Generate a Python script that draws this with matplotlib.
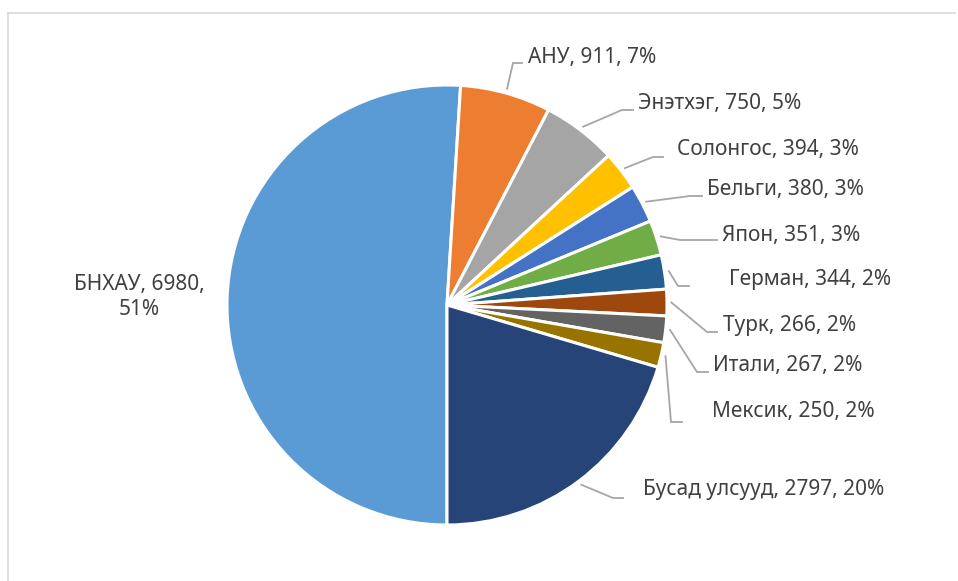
import matplotlib
matplotlib.use('Agg')
import matplotlib.pyplot as plt
from matplotlib.lines import Line2D
import numpy as np

# ---- data ----
countries = ['БНХАУ', 'АНУ', 'Энэтхэг', 'Солонгос', 'Бельги', 'Япон',
             'Герман', 'Турк', 'Итали', 'Мексик', 'Бусад улсууд']
values = [6980, 911, 750, 394, 380, 351, 344, 266, 267, 250, 2797]
percents = [51, 7, 5, 3, 3, 3, 2, 2, 2, 2, 20]
colors = ['#5B9BD5', '#ED7D31', '#A5A5A5', '#FFC000', '#4472C4', '#70AD47',
          '#255E91', '#9E480E', '#636363', '#997300', '#264478']

# ---- layout (pixel coordinates, y measured from top) ----
W, H = 958, 581
center = (447, 305)
radius = 220
# text anchor (left x, centre y), elbow point, elbow end for each label (None = no leader)
text_pos = [(139, 297), (528, 57), (638, 103), (677, 149), (707, 190), (722, 235),
            (729, 279), (723, 325), (713, 365), (712, 412), (643, 490)]
elbows = [None, ((513, 63), (522, 63)), ((622, 110), (633, 110)), ((653, 157), (663, 157)),
          ((690, 196), (702, 196)), ((680, 240), (717, 240)), ((678, 286), (689, 286)),
          ((707, 332), (717, 332)), ((697, 372), (708, 372)), ((671, 422), (682, 422)),
          ((613, 498), (623, 498))]

plt.rcParams['font.family'] = ['Noto Sans', 'DejaVu Sans']
TXT = '#404040'
LEAD = '#A6A6A6'
FS = 15

fig = plt.figure(figsize=(W / 100, H / 100), dpi=100)
ax = fig.add_axes([0, 0, 1, 1])

fy = lambda y: H - y

wedges, _ = ax.pie(values, colors=colors, startangle=270, counterclock=False,
                   radius=radius, center=(center[0], fy(center[1])),
                   wedgeprops=dict(edgecolor='white', linewidth=2.2), frame=True)

ax.set_xlim(0, W)
ax.set_ylim(0, H)
ax.set_aspect('equal')
ax.axis('off')

for i, (name, v, p) in enumerate(zip(countries, values, percents)):
    tx, ty = text_pos[i]
    if elbows[i] is None:
        ax.text(tx, fy(ty), f"{name}, {v},\n{p}%", ha='center', va='center',
                multialignment='center', fontsize=FS, color=TXT, linespacing=1.2)
        continue
    w = wedges[i]
    mid = np.deg2rad((w.theta1 + w.theta2) / 2)
    sx = center[0] + radius * 1.02 * np.cos(mid)
    sy = fy(center[1]) + radius * 1.02 * np.sin(mid)
    (px, py), (ex, ey) = elbows[i]
    ax.plot([sx, px, ex], [sy, fy(py), fy(ey)], color=LEAD, lw=1.3,
            solid_joinstyle='miter', zorder=1)
    ax.text(tx, fy(ty), f"{name}, {v}, {p}%", ha='left', va='center',
            fontsize=FS, color=TXT)

# chart area border (partially visible)
fig.add_artist(Line2D([8 / W, 8 / W], [0, 1 - 12.5 / H], color='#D9D9D9', lw=1.2))
fig.add_artist(Line2D([8 / W, 955 / W], [1 - 12.5 / H, 1 - 12.5 / H], color='#D9D9D9', lw=1.2))

fig.savefig('out.png', dpi=100)
